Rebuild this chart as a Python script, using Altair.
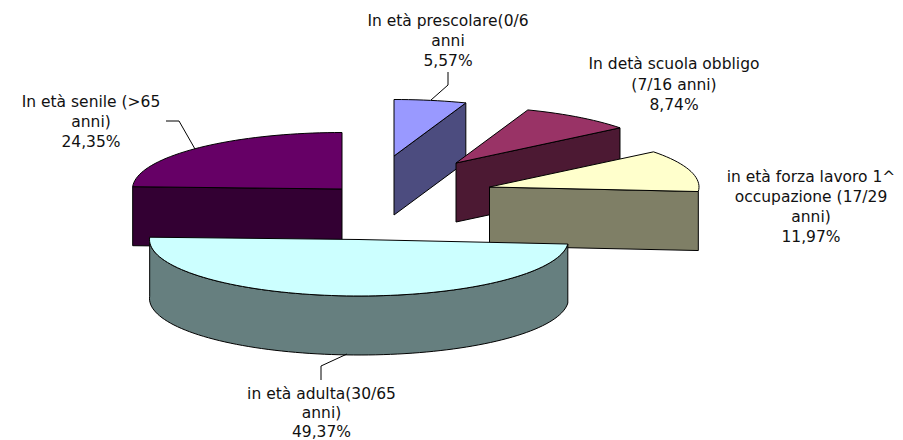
import math
import altair as alt
import pandas as pd

NAMES = ["prescolare", "scuola", "lavoro", "adulta", "senile"]
SHARES = [5.57, 8.74, 11.97, 49.37, 24.35]
TOP_COLOURS = ["#9999FF", "#993366", "#FFFFCC", "#CCFFFF", "#660066"]
SIDE_COLOURS = ["#4C4C7F", "#4C1933", "#7F7F66", "#667F7F", "#330033"]
CENTRE_X = [394, 456, 489.5, 359, 342]
CENTRE_Y = [156, 163, 187, 239.5, 189]
RADIUS_X = 209.5
RADIUS_Y = 56.5
DEPTH = 59
PAINT_ORDER = [4, 0, 1, 2, 3]

LABEL_TEXT = ["In età prescolare(0/6", "anni", "5,57%",
              "In detà scuola obbligo", "(7/16 anni)", "8,74%",
              "in età forza lavoro 1^", "occupazione (17/29", "anni)", "11,97%",
              "in età adulta(30/65", "anni)", "49,37%",
              "In età senile (>65", "anni)", "24,35%"]
LABEL_X = [448, 448, 448,
           674, 674, 674,
           811, 811, 811, 811,
           321.5, 321.5, 321.5,
           91, 91, 91]
LABEL_Y = [21, 41, 61,
           64, 85, 105,
           177, 197, 217, 237,
           394, 413, 432,
           102, 122, 142]

LEADER_X = [[448, 448, 431], [166, 179, 195], [321, 321, 347]]
LEADER_Y = [[72, 85, 100], [121, 121, 149], [380, 366, 354]]

X = alt.X("x:Q", axis=None, scale=alt.Scale(domain=[8, 895], nice=False, zero=False))
Y = alt.Y("y:Q", axis=None, scale=alt.Scale(domain=[440, 8], nice=False, zero=False))


def polygon(points, fill):
    pts = points + [points[0]]
    df = pd.DataFrame({"x": [p[0] for p in pts], "y": [p[1] for p in pts], "i": range(len(pts))})
    return alt.Chart(df).mark_line(fill=fill, stroke="black", strokeWidth=1, strokeJoin="round").encode(
        x=X, y=Y, order="i:Q")


def ell(k, deg, drop=0):
    t = math.radians(deg)
    return (CENTRE_X[k] + RADIUS_X * math.sin(t),
            CENTRE_Y[k] - RADIUS_Y * math.cos(t) + drop)


def arc(k, a0, a1, drop=0):
    n = max(2, int(abs(a1 - a0) / 2) + 1)
    return [ell(k, a0 + (a1 - a0) * i / (n - 1), drop) for i in range(n)]


starts = []
acc = 0.0
for s in SHARES:
    starts.append(acc * 3.6)
    acc += s

layers = []
for k in PAINT_ORDER:
    a0, a1 = starts[k], starts[k] + SHARES[k] * 3.6
    apex = (CENTRE_X[k], CENTRE_Y[k])
    apex_low = (apex[0], apex[1] + DEPTH)
    if k == 3:  # front slice: curved outer wall
        wall = arc(k, a0, a1) + arc(k, a1, a0, DEPTH)
    elif k == 4:  # left-facing radial wall
        p = ell(k, a0)
        wall = [p, apex, apex_low, (p[0], p[1] + DEPTH)]
    else:  # right-facing radial wall
        p = ell(k, a1)
        wall = [p, apex, apex_low, (p[0], p[1] + DEPTH)]
    layers.append(polygon(wall, SIDE_COLOURS[k]))
    layers.append(polygon([apex] + arc(k, a0, a1), TOP_COLOURS[k]))

for lx, ly in zip(LEADER_X, LEADER_Y):
    df = pd.DataFrame({"x": lx, "y": ly, "i": range(len(lx))})
    layers.append(alt.Chart(df).mark_line(stroke="black", strokeWidth=1).encode(x=X, y=Y, order="i:Q"))

labels = pd.DataFrame({"t": LABEL_TEXT, "x": LABEL_X, "y": LABEL_Y})
layers.append(alt.Chart(labels).mark_text(font="DejaVu Sans", fontSize=15.5, color="#111111",
                                          align="center", baseline="middle").encode(x=X, y=Y, text="t:N"))

chart = alt.layer(*layers).properties(
    width=887, height=432, padding=0,
    autosize=alt.AutoSizeParams(type="none"),
).configure_view(stroke=None)

chart.save("out.html", embed_options={"renderer": "svg", "actions": False})
